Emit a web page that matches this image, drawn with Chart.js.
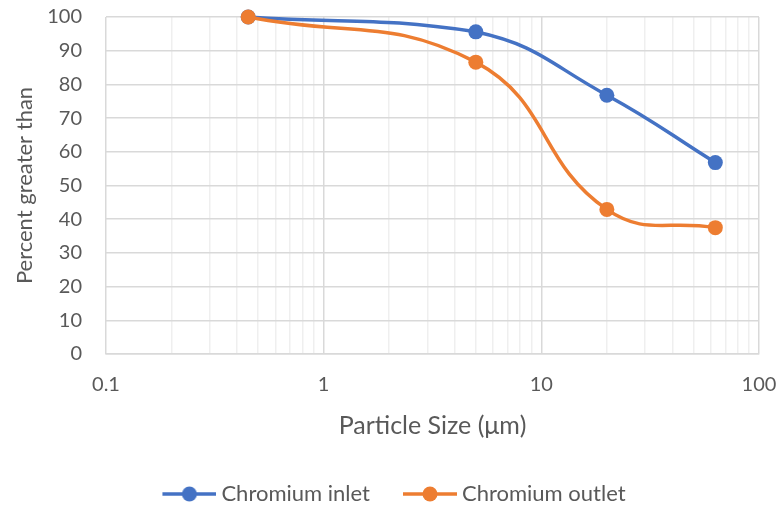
<!DOCTYPE html>
<html>
<head>
<meta charset="utf-8">
<script src="https://cdn.jsdelivr.net/npm/chart.js@4/dist/chart.umd.min.js"></script>
<style>
  html, body { margin: 0; padding: 0; background: #fff; }
  #wrap { width: 782px; height: 509px; }
</style>
</head>
<body>
<div id="wrap"><canvas id="c" width="782" height="509"></canvas></div>
<script>
// Particle size (µm) and cumulative percent greater than
const particleSize = [0.45, 5, 20, 63];
const chromiumInlet = [100, 95.6, 76.8, 56.8];
const chromiumOutlet = [100, 86.6, 42.9, 37.5];
const seriesNames = ['Chromium inlet', 'Chromium outlet'];
const xTickLabels = [0.1, 1, 10, 100];

const BLUE = '#4472C4';
const ORANGE = '#ED7D31';
const TEXT = '#595959';
const FONT = 'Lato, "Open Sans", sans-serif';

// Legend key: a short line with a dot, drawn at the right end of a wider
// transparent strip so the entries sit apart from each other.
const KEY_BOX = 77;
const KEY_LINE = 54;
function legendMarker(color) {
  const c = document.createElement('canvas');
  c.width = KEY_BOX + 12; c.height = 16;
  const g = c.getContext('2d');
  const x1 = c.width, x0 = x1 - KEY_LINE, mid = (x0 + x1) / 2;
  g.strokeStyle = color; g.lineWidth = 3.5;
  g.beginPath(); g.moveTo(x0, 8); g.lineTo(x1, 8); g.stroke();
  g.fillStyle = color;
  g.beginPath(); g.arc(mid, 8, 7.5, 0, Math.PI * 2); g.fill();
  return c;
}

function pts(ys) { return particleSize.map((x, i) => ({ x, y: ys[i] })); }

// the later series is painted over the earlier one
const series = [
  { label: seriesNames[0], data: pts(chromiumInlet), color: BLUE, order: 1 },
  { label: seriesNames[1], data: pts(chromiumOutlet), color: ORANGE, order: 0 }
];

const isDecade = v => { const lg = Math.log10(v); return Math.abs(lg - Math.round(lg)) < 1e-6; };

new Chart(document.getElementById('c'), {
  type: 'line',
  data: {
    datasets: series.map(s => ({
      label: s.label,
      data: s.data,
      order: s.order,
      borderColor: s.color,
      backgroundColor: s.color,
      borderWidth: 3.5,
      pointStyle: 'circle',
      pointRadius: 7.5,
      pointHoverRadius: 7.5,
      pointBorderWidth: 0,
      tension: 0.45,
      fill: false,
      clip: false
    }))
  },
  options: {
    responsive: false,
    animation: false,
    layout: { padding: { top: 0, right: 23, left: 0, bottom: -6 } },
    plugins: {
      tooltip: { enabled: false },
      legend: {
        position: 'bottom',
        labels: {
          color: TEXT,
          font: { family: FONT, size: 22 },
          usePointStyle: true,
          pointStyleWidth: KEY_BOX,
          padding: 4,
          generateLabels(chart) {
            return chart.data.datasets.map((d, i) => ({
              text: d.label,
              fontColor: TEXT,
              pointStyle: legendMarker(d.borderColor),
              datasetIndex: i,
              lineWidth: 0,
              strokeStyle: 'transparent',
              fillStyle: 'transparent'
            }));
          }
        }
      }
    },
    scales: {
      x: {
        type: 'logarithmic',
        min: 0.1,
        max: 100,
        afterBuildTicks(scale) {
          const t = [];
          for (let d = -1; d < 2; d++) {
            for (let m = 1; m < 10; m++) t.push({ value: m * Math.pow(10, d) });
          }
          t.push({ value: 100 });
          scale.ticks = t;
        },
        afterFit(scale) {
          scale.height = 125;
          scale.paddingRight = 0;
        },
        ticks: {
          autoSkip: false,
          maxRotation: 0,
          color: TEXT,
          font: { family: FONT, size: 20 },
          padding: 19,
          callback(v) {
            return xTickLabels.some(l => Math.abs(l - v) < 1e-9) ? String(v) : '';
          }
        },
        grid: {
          drawTicks: false,
          color(ctx) {
            const v = ctx.tick ? ctx.tick.value : 1;
            return isDecade(v) ? '#D9D9D9' : '#EFEFEF';
          },
          lineWidth: 1.5
        },
        border: { color: '#D9D9D9', width: 1.5 },
        title: {
          display: true,
          text: 'Particle Size (μm)',
          color: TEXT,
          font: { family: FONT, size: 25 },
          padding: { top: 0, bottom: 38 }
        }
      },
      y: {
        min: 0,
        max: 100,
        afterFit(scale) {
          scale.width = 106;
          scale.paddingTop = 17;
        },
        ticks: {
          stepSize: 10,
          color: TEXT,
          font: { family: FONT, size: 20 },
          padding: 24
        },
        grid: { drawTicks: false, color: '#D9D9D9', lineWidth: 1.5 },
        border: { display: false },
        title: {
          display: true,
          text: 'Percent greater than',
          color: TEXT,
          font: { family: FONT, size: 22 },
          padding: { top: 12, bottom: 0 }
        }
      }
    }
  }
});
</script>
</body>
</html>
